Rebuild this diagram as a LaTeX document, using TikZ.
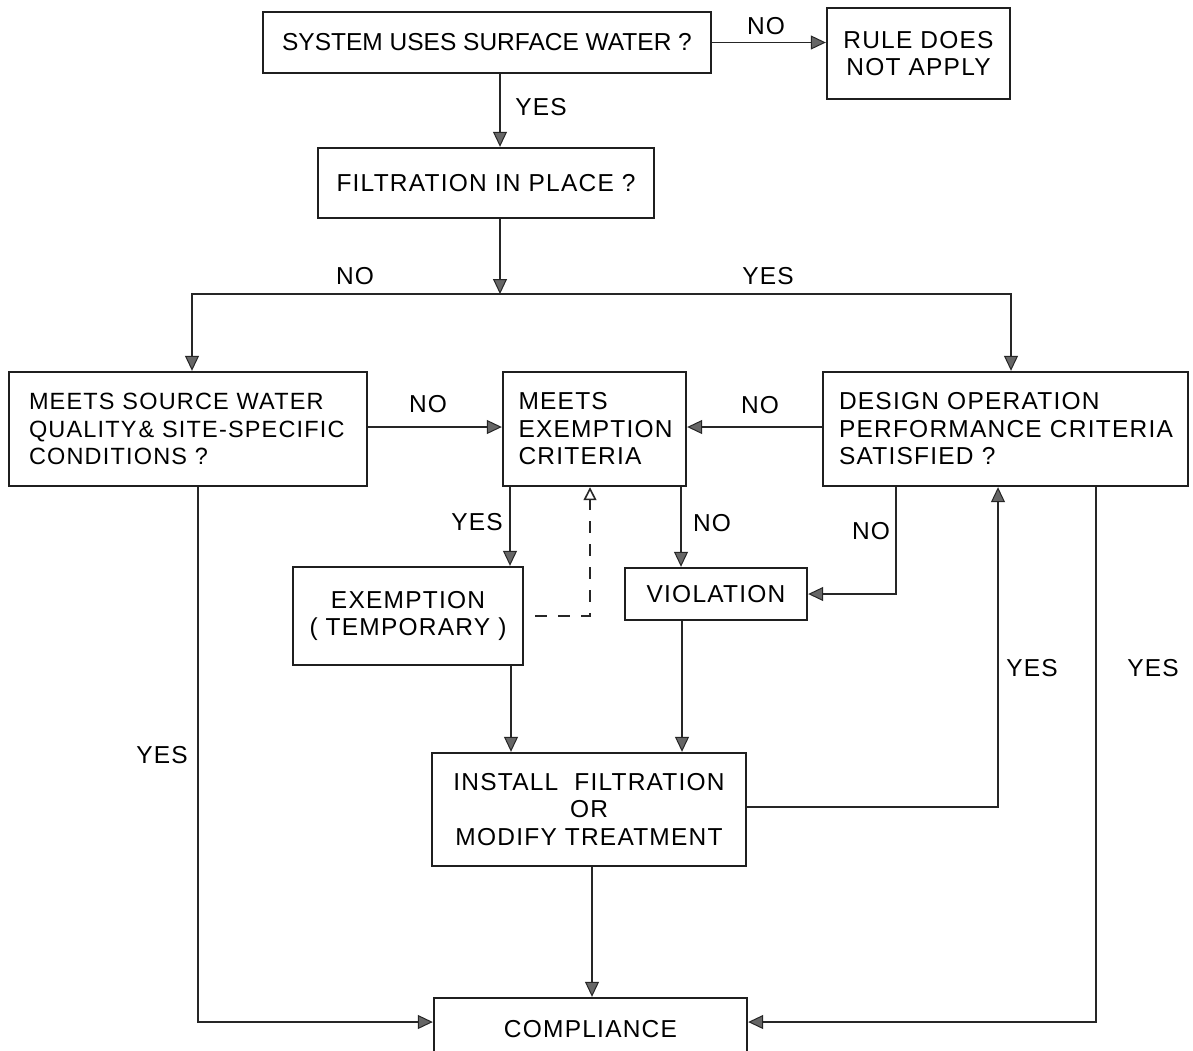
\documentclass[tikz,border=0pt]{standalone}
\usepackage{fontspec}
\setmainfont{Liberation Sans}[LetterSpace=5]
\newfontfamily\plainsans{Liberation Sans}
\usetikzlibrary{arrows.meta,calc}
\begin{document}
\begin{tikzpicture}[x=1pt,y=-1pt,
  font=\fontsize{24.5}{27.5}\selectfont,
  box/.style={draw=black!88, line width=2.4pt, inner sep=0pt, align=center, fill=white},
  lbox/.style={box, align=left, execute at begin node={\hyphenpenalty=10000 \exhyphenpenalty=10000 }},
  conn/.style={draw=black!85, line width=1.8pt, -{Triangle[length=15pt,width=14pt,fill=black!60,line width=1pt]}},
  dconn/.style={draw=black!85, line width=1.8pt, dash pattern=on 12pt off 11pt, dash phase=12pt, -{Triangle[open,length=13pt,width=13pt,fill=white,line width=1.6pt]}},
  lbl/.style={inner sep=0pt}]
\clip (0,0) rectangle (1193,1050);
\fill[white] (0,0) rectangle (1193,1050);

% boxes
\node[box, minimum width=448pt, minimum height=61pt, font=\plainsans\fontsize{24.5}{27.5}\selectfont] (sys) at (487,42.5) {SYSTEM USES SURFACE WATER ?};
\node[box, minimum width=183pt, minimum height=91pt] (rule) at (918.5,53.5) {RULE DOES\\NOT APPLY};
\node[box, minimum width=336pt, minimum height=70pt] (filt) at (486,183) {FILTRATION IN PLACE ?};
\node[lbox, minimum width=358pt, minimum height=114pt, text width=318pt, font=\fontsize{23.5}{27.5}\selectfont] (src) at (188,429) {MEETS SOURCE WATER\\QUALITY\kern2pt\& SITE-SPECIFIC\\CONDITIONS ?};
\node[lbox, minimum width=183pt, minimum height=114pt, text width=152pt] (exem) at (594.5,429) {MEETS\\EXEMPTION\\CRITERIA};
\node[lbox, minimum width=365pt, minimum height=114pt, text width=333pt] (design) at (1005.5,429) {DESIGN OPERATION\\PERFORMANCE CRITERIA\\SATISFIED ?};
\node[box, minimum width=230pt, minimum height=98pt] (temp) at (408,616) {EXEMPTION\\( TEMPORARY )};
\node[box, minimum width=182pt, minimum height=52pt] (viol) at (716,594) {VIOLATION};
\node[box, minimum width=314pt, minimum height=113pt] (inst) at (589,809.5) {INSTALL\hspace{8pt} FILTRATION\\OR\\MODIFY TREATMENT};
\node[box, minimum width=313pt, minimum height=62pt] (comp) at (590.5,1029) {COMPLIANCE};

% connectors
\draw[conn] (sys.east) -- (rule.west |- sys.east);
\node[lbl] (lno1) at (766,26) {NO};
\draw[conn] (sys.south -| 500,0) -- (filt.north -| 500,0);
\node[lbl] (lyes1) at (541,107) {YES};
\coordinate (split) at (500,294);
\draw[conn] (filt.south -| split) -- (split);
\draw[conn] (split) -| (src.north -| 192,0);
\draw[conn] (split) -| (design.north -| 1011,0);
\node[lbl] (lno2) at (355,276) {NO};
\node[lbl] (lyes2) at (768,276) {YES};

\draw[conn] (src.east |- 0,427) -- (exem.west |- 0,427);
\node[lbl] (lno3) at (428,404) {NO};
\draw[conn] (design.west |- 0,427) -- (exem.east |- 0,427);
\node[lbl] (lno4) at (760,405) {NO};

\draw[conn] (exem.south -| 510,0) -- (temp.north -| 510,0);
\node[lbl] (lyes3) at (477,522) {YES};
\draw[conn] (exem.south -| 681,0) -- (viol.north -| 681,0);
\node[lbl] (lno5) at (712,523) {NO};
\draw[dconn] (temp.east |- 0,616) -| (exem.south -| 590,0);

\draw[conn] (design.south -| 896,0) |- (viol.east);
\node[lbl] (lno6) at (871,531) {NO};

\draw[conn] (temp.south -| 511,0) -- (inst.north -| 511,0);
\draw[conn] (viol.south -| 682,0) -- (inst.north -| 682,0);

\draw[conn] (inst.east |- 0,807) -| (design.south -| 998,0);
\node[lbl] (lyes4) at (1032,668) {YES};
\draw[conn] (design.south -| 1096,0) |- (comp.east |- 0,1022);
\node[lbl] (lyes5) at (1153,668) {YES};
\draw[conn] (src.south -| 198,0) |- (comp.west |- 0,1022);
\node[lbl] (lyes6) at (162,755) {YES};
\draw[conn] (inst.south -| 592,0) -- (comp.north -| 592,0);
\end{tikzpicture}
\end{document}
